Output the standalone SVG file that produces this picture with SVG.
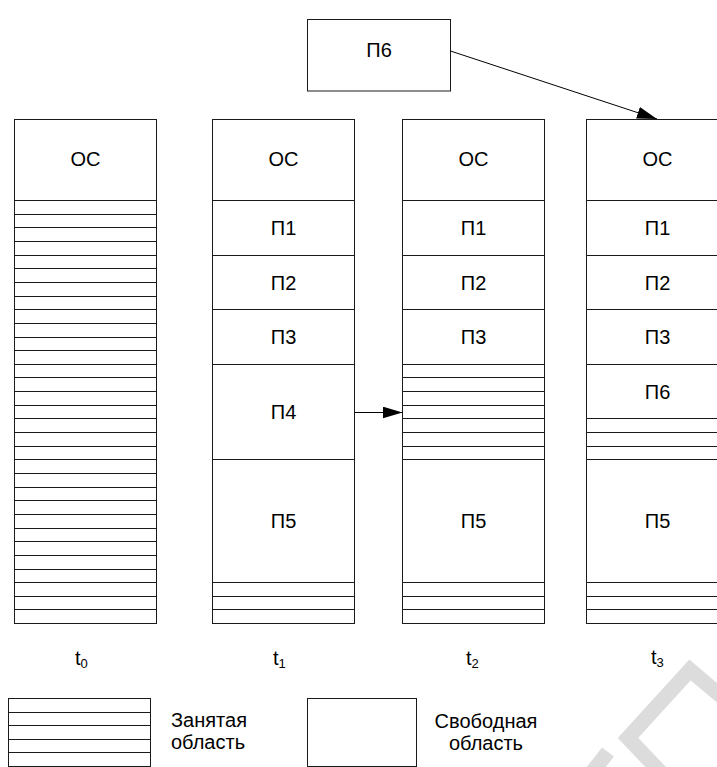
<svg xmlns="http://www.w3.org/2000/svg" width="717" height="767" viewBox="0 0 717 767">
<style>
.box{fill:#fff;stroke:#1a1a1a;stroke-width:1}
.ln{stroke:#1a1a1a;stroke-width:1;fill:none}
.lbl{font-family:"Liberation Sans",Arial,sans-serif;font-size:20px;fill:#000;text-anchor:middle}
.leg{font-family:"Liberation Sans",Arial,sans-serif;font-size:20px;fill:#000}
.t{font-family:"Liberation Sans",Arial,sans-serif;font-size:20px;fill:#000}
.wm{fill:none;stroke:#dcdcdc;stroke-width:15;stroke-linejoin:miter}
</style>
<defs>
<marker id="ah" markerUnits="userSpaceOnUse" markerWidth="20" markerHeight="12" refX="20" refY="6" orient="auto">
<path d="M0,0 L20,6 L0,12 z" fill="#000"/>
</marker>
</defs>
<rect width="717" height="767" fill="#fff"/>
<g id="watermark">
<polyline class="wm" points="735,708 690,670 628,738 668,780"/>
<line class="wm" x1="608" y1="752" x2="590" y2="775"/>
</g>
<g id="p6-top">
<rect class="box" x="307.5" y="19.5" width="143" height="71.5"/>
<text class="lbl" x="379" y="57">П6</text>
</g>
<g id="col-t0">
<rect class="box" x="14.5" y="119.5" width="142" height="81"/>
<text class="lbl" x="85.5" y="166">ОС</text>
<rect class="box" x="14.5" y="200.5" width="142" height="423"/>
<path class="ln" d="M14.5,214.5H156.5M14.5,227.5H156.5M14.5,241.5H156.5M14.5,255.5H156.5M14.5,268.5H156.5M14.5,282.5H156.5M14.5,296.5H156.5M14.5,309.5H156.5M14.5,323.5H156.5M14.5,337.5H156.5M14.5,350.5H156.5M14.5,364.5H156.5M14.5,377.5H156.5M14.5,391.5H156.5M14.5,405.5H156.5M14.5,418.5H156.5M14.5,432.5H156.5M14.5,446.5H156.5M14.5,459.5H156.5M14.5,473.5H156.5M14.5,487.5H156.5M14.5,500.5H156.5M14.5,514.5H156.5M14.5,528.5H156.5M14.5,541.5H156.5M14.5,555.5H156.5M14.5,569.5H156.5M14.5,582.5H156.5M14.5,596.5H156.5M14.5,609.5H156.5"/>
</g>
<g id="col-t1">
<rect class="box" x="212.5" y="119.5" width="142" height="81"/>
<text class="lbl" x="283.5" y="166">ОС</text>
<rect class="box" x="212.5" y="200.5" width="142" height="55"/>
<text class="lbl" x="283.5" y="235">П1</text>
<rect class="box" x="212.5" y="255.5" width="142" height="54"/>
<text class="lbl" x="283.5" y="289.5">П2</text>
<rect class="box" x="212.5" y="309.5" width="142" height="55"/>
<text class="lbl" x="283.5" y="344">П3</text>
<rect class="box" x="212.5" y="364.5" width="142" height="95"/>
<text class="lbl" x="283.5" y="419">П4</text>
<rect class="box" x="212.5" y="459.5" width="142" height="123"/>
<text class="lbl" x="283.5" y="528">П5</text>
<rect class="box" x="212.5" y="582.5" width="142" height="41"/>
<path class="ln" d="M212.5,596.5H354.5M212.5,609.5H354.5"/>
</g>
<g id="col-t2">
<rect class="box" x="402.5" y="119.5" width="142" height="81"/>
<text class="lbl" x="473.5" y="166">ОС</text>
<rect class="box" x="402.5" y="200.5" width="142" height="55"/>
<text class="lbl" x="473.5" y="235">П1</text>
<rect class="box" x="402.5" y="255.5" width="142" height="54"/>
<text class="lbl" x="473.5" y="289.5">П2</text>
<rect class="box" x="402.5" y="309.5" width="142" height="55"/>
<text class="lbl" x="473.5" y="344">П3</text>
<rect class="box" x="402.5" y="364.5" width="142" height="95"/>
<path class="ln" d="M402.5,377.5H544.5M402.5,391.5H544.5M402.5,405.5H544.5M402.5,418.5H544.5M402.5,432.5H544.5M402.5,446.5H544.5"/>
<rect class="box" x="402.5" y="459.5" width="142" height="123"/>
<text class="lbl" x="473.5" y="528">П5</text>
<rect class="box" x="402.5" y="582.5" width="142" height="41"/>
<path class="ln" d="M402.5,596.5H544.5M402.5,609.5H544.5"/>
</g>
<g id="col-t3">
<rect class="box" x="586.5" y="119.5" width="142" height="81"/>
<text class="lbl" x="657.5" y="166">ОС</text>
<rect class="box" x="586.5" y="200.5" width="142" height="55"/>
<text class="lbl" x="657.5" y="235">П1</text>
<rect class="box" x="586.5" y="255.5" width="142" height="54"/>
<text class="lbl" x="657.5" y="289.5">П2</text>
<rect class="box" x="586.5" y="309.5" width="142" height="55"/>
<text class="lbl" x="657.5" y="344">П3</text>
<rect class="box" x="586.5" y="364.5" width="142" height="54"/>
<text class="lbl" x="657.5" y="398.5">П6</text>
<rect class="box" x="586.5" y="418.5" width="142" height="41"/>
<path class="ln" d="M586.5,432.5H728.5M586.5,446.5H728.5"/>
<rect class="box" x="586.5" y="459.5" width="142" height="123"/>
<text class="lbl" x="657.5" y="528">П5</text>
<rect class="box" x="586.5" y="582.5" width="142" height="41"/>
<path class="ln" d="M586.5,596.5H728.5M586.5,609.5H728.5"/>
</g>
<g id="connectors">
<line x1="450.5" y1="51" x2="657" y2="119" stroke="#000" stroke-width="1" marker-end="url(#ah)"/>
<line x1="354.5" y1="412.5" x2="402.5" y2="412.5" stroke="#000" stroke-width="1" marker-end="url(#ah)"/>
</g>
<g id="time-labels">
<text class="t" x="75" y="665">t<tspan font-size="13" dy="3">0</tspan></text>
<text class="t" x="273" y="665">t<tspan font-size="13" dy="3">1</tspan></text>
<text class="t" x="466" y="665">t<tspan font-size="13" dy="3">2</tspan></text>
<text class="t" x="651" y="664">t<tspan font-size="13" dy="3">3</tspan></text>
</g>
<g id="legend-busy">
<rect class="box" x="8.5" y="698.5" width="142" height="68"/>
<path class="ln" d="M8.5,712.5H150.5M8.5,725.5H150.5M8.5,739.5H150.5M8.5,752.5H150.5"/>
<text class="leg" x="171" y="727">Занятая</text>
<text class="leg" x="171" y="749">область</text>
</g>
<g id="legend-free">
<rect class="box" x="307.5" y="698.5" width="109" height="68"/>
<text class="leg" x="486" y="728" text-anchor="middle">Свободная</text>
<text class="leg" x="486" y="750" text-anchor="middle">область</text>
</g>
</svg>
